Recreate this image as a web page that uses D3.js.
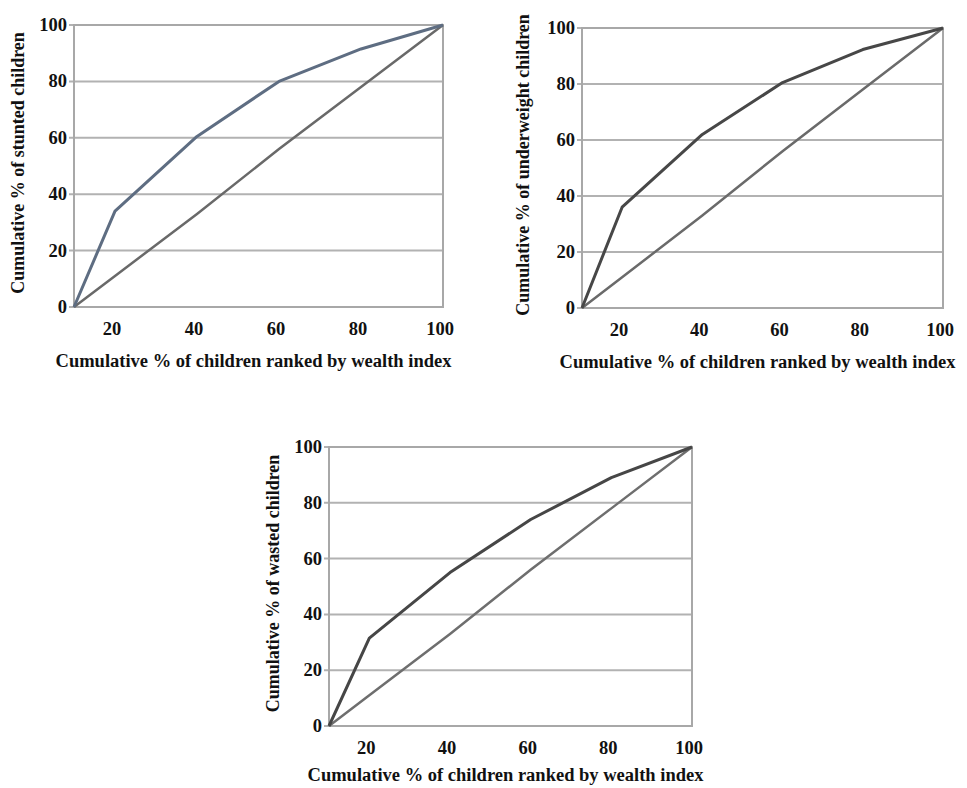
<!DOCTYPE html>
<html>
<head>
<meta charset="utf-8">
<script src="https://cdn.jsdelivr.net/npm/d3@7"></script>
<style>
  body { margin: 0; background: #fff; }
  svg { display: block; }
  text { font-family: "Liberation Serif", "Times New Roman", serif; font-weight: bold; fill: #111; }
</style>
</head>
<body>
<svg id="chart" width="967" height="788"></svg>
<script>
// wealth quintile points (x axis starts at 10 in the picture)
const wealthPct = [10, 20, 40, 60, 80, 100];
const stunted = [0, 34, 60.5, 80, 91.5, 100];
const underweight = [0, 36, 62, 80.5, 92.3, 100];
const wasted = [0, 31.5, 55, 74, 89, 100];
const equality = [0, 11, 33, 56, 78, 100];

const xTicks = [20, 40, 60, 80, 100];
const yTicks = [0, 20, 40, 60, 80, 100];
const xTitle = "Cumulative % of children ranked by wealth index";

// one entry per panel: plot box in px + which series
const panels = [
    {box: [74, 443, 25, 307], values: stunted, color: "#5e6d82", yTitle: "Cumulative % of stunted children", yTitleX: 18, xTitleDy: 54, diag: "#696969"},
    {box: [582, 943, 28, 308], values: underweight, color: "#474747", yTitle: "Cumulative % of underweight children", yTitleX: 523, xTitleDy: 54, diag: "#6a6a6a"},
    {box: [329, 692, 447, 726], values: wasted, color: "#464646", yTitle: "Cumulative % of wasted children", yTitleX: 273, xTitleDy: 49, diag: "#6e6e6e"}
];

const svg = d3.select("#chart");

function drawPanel(p) {
    const [left, right, top, bottom] = p.box;
    const x = d3.scaleLinear().domain([10, 100]).range([left, right]);
    const y = d3.scaleLinear().domain([0, 100]).range([bottom, top]);
    const g = svg.append("g");

    // gridlines
    g.append("g")
        .selectAll("line")
        .data(yTicks)
        .join("line")
        .attr("x1", left - 5)
        .attr("x2", right)
        .attr("y1", d => y(d))
        .attr("y2", d => y(d))
        .attr("stroke", "#b2b2b2")
        .attr("stroke-width", 2);

    // plot border
    g.append("rect")
        .attr("x", left)
        .attr("y", top)
        .attr("width", right - left)
        .attr("height", bottom - top)
        .attr("fill", "none")
        .attr("stroke", "#a8a8a8")
        .attr("stroke-width", 2);

    // y tick labels
    g.append("g")
        .selectAll("text")
        .data(yTicks)
        .join("text")
        .attr("x", left - 7)
        .attr("y", d => y(d))
        .attr("text-anchor", "end")
        .attr("dominant-baseline", "central")
        .style("font-size", "18.5px")
        .text(d => d);

    // x tick labels
    g.append("g")
        .selectAll("text")
        .data(xTicks)
        .join("text")
        .attr("x", d => x(d) - 3)
        .attr("y", bottom + 22)
        .attr("text-anchor", "middle")
        .attr("dominant-baseline", "central")
        .style("font-size", "18.5px")
        .text(d => d);

    const line = d3.line()
        .x((d, i) => x(wealthPct[i]))
        .y(d => y(d));

    g.append("path")
        .datum(equality)
        .attr("d", line)
        .attr("fill", "none")
        .attr("stroke", p.diag)
        .attr("stroke-width", 2.5);

    g.append("path")
        .datum(p.values)
        .attr("d", line)
        .attr("fill", "none")
        .attr("stroke", p.color)
        .attr("stroke-width", 3)
        .attr("stroke-linejoin", "round");

    // axis titles
    g.append("text")
        .attr("x", (left + right) / 2 - 5)
        .attr("y", bottom + p.xTitleDy)
        .attr("text-anchor", "middle")
        .attr("dominant-baseline", "central")
        .style("font-size", "18.5px")
        .text(xTitle);

    const cy = (top + bottom) / 2 - 3;
    g.append("text")
        .attr("transform", "translate(" + p.yTitleX + "," + cy + ") rotate(-90)")
        .attr("text-anchor", "middle")
        .attr("dominant-baseline", "central")
        .style("font-size", "18px")
        .text(p.yTitle);
}

panels.forEach(drawPanel);
</script>
</body>
</html>
